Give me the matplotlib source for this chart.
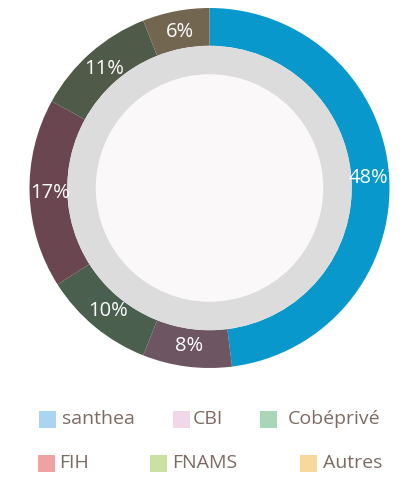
import matplotlib as mpl
mpl.use('Agg')
import matplotlib.pyplot as plt
from matplotlib.patches import Rectangle, Circle

# shares per organisation (%)
labels = ['santhea', 'CBI', 'Cobéprivé', 'FIH', 'FNAMS', 'Autres']
values = [48, 8, 10, 17, 11, 6]
ring_colors = ['#0898cc', '#6e5562', '#4a5f4e', '#6a4650', '#4f5a48', '#736650']
legend_colors = ['#a9d5f0', '#f1d7ea', '#a9d6b6', '#f0a2a2', '#c9e2a2', '#f8d999']

plt.rcParams['font.family'] = ['Open Sans', 'DejaVu Sans']

fig = plt.figure(figsize=(4.05, 4.86), dpi=100)
fig.patch.set_facecolor('white')

# donut, square axes placed over the circle area
cx, cy, r = 209.5, 188, 180
ax = fig.add_axes([(cx - r) / 405, (486 - cy - r) / 486, 2 * r / 405, 2 * r / 486])
ax.pie(values, colors=ring_colors, startangle=90, counterclock=False,
       radius=1.0, wedgeprops=dict(width=0.21, linewidth=0),
       labels=[f'{v}%' for v in values], labeldistance=0.885,
       textprops=dict(color='white', fontsize=14.5, ha='center', va='center'))
ax.add_patch(Circle((0, 0), 0.79, color='#dcdcdd', lw=0))
ax.add_patch(Circle((0, 0), 0.632, color='#fbf8f9', lw=0))
ax.set_xlim(-1, 1)
ax.set_ylim(-1, 1)
ax.set_aspect('auto')
ax.axis('off')

# legend, two rows
pos = [(39, 419, 62), (173, 419, 193), (260, 419, 288),
       (38, 463, 59), (150, 463, 172), (300, 463, 323)]
for (sx, sy, tx), lab, col in zip(pos, labels, legend_colors):
    fig.patches.append(Rectangle((sx / 405, (486 - sy - 8.5) / 486), 17 / 405, 17 / 486,
                                 transform=fig.transFigure, color=col, lw=0))
    fig.text(tx / 405, (486 - sy) / 486, lab, color='#7d6b62', fontsize=14,
             ha='left', va='center')

fig.savefig('out.png', dpi=100)
